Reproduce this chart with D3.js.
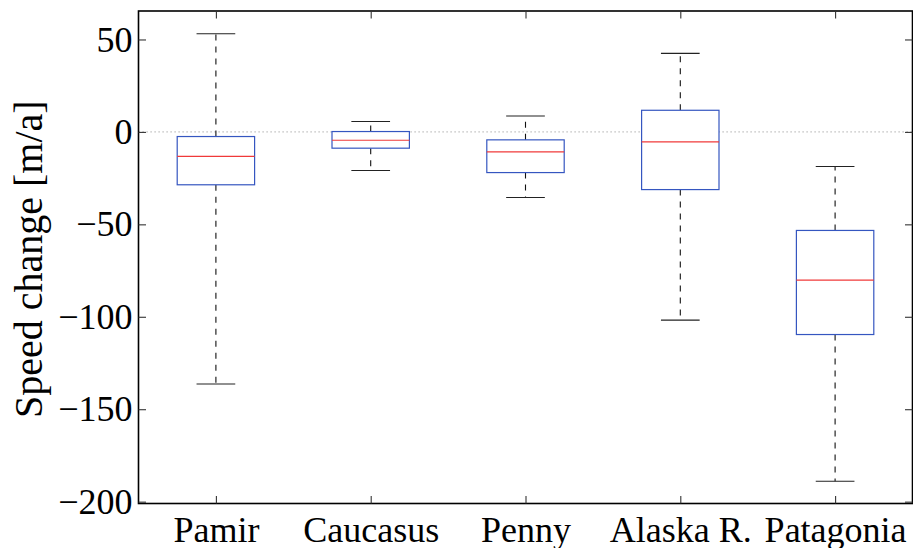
<!DOCTYPE html>
<html>
<head>
<meta charset="utf-8">
<script src="https://cdn.jsdelivr.net/npm/d3@7"></script>
<style>
  html, body { margin: 0; padding: 0; background: #fff; }
  svg { display: block; }
  text { font-family: "Liberation Serif", "Times New Roman", serif; fill: #000; }
</style>
</head>
<body>
<svg id="chart" width="913" height="548"></svg>
<script>
// Box plot statistics per region (m/a)
const categories  = ["Pamir", "Caucasus", "Penny", "Alaska R.", "Patagonia"];
const whiskerHigh = [53.1, 5.6, 8.6, 42.5, -18.7];
const upperQuart  = [-2.5, 0.2, -4.3, 11.7, -53.3];
const medians     = [-13.2, -4.5, -10.8, -5.4, -80.2];
const lowerQuart  = [-28.6, -8.8, -22.0, -31.2, -109.6];
const whiskerLow  = [-136.4, -20.9, -35.5, -101.8, -189.0];
const yTicks      = [-200, -150, -100, -50, 0, 50];
const yLabel      = "Speed change [m/a]";

const serif = '"Liberation Serif", "Times New Roman", serif';
const svg = d3.select("#chart");
const frame = { left: 138.5, right: 912.5, top: 11, bottom: 503.5 };

const x = d3.scaleLinear().domain([0.5, categories.length + 0.5]).range([frame.left, frame.right]);
const y = d3.scaleLinear().domain([-201, 65.4]).range([frame.bottom, frame.top]);

const boxHalf = x(1.25) - x(1);    // box half width = 0.25 units
const capHalf = x(1.125) - x(1);   // whisker cap half width

const rows = categories.map((c, i) => ({
  name: c, pos: i + 1,
  hi: whiskerHigh[i], q3: upperQuart[i], med: medians[i], q1: lowerQuart[i], lo: whiskerLow[i]
}));

// zero reference line
svg.append("line")
  .attr("x1", frame.left).attr("x2", frame.right)
  .attr("y1", y(0)).attr("y2", y(0))
  .attr("stroke", "#9a9a9a").attr("stroke-width", 1)
  .attr("stroke-dasharray", "1.2,2.8");

const g = svg.append("g").selectAll("g").data(rows).join("g");

// whiskers (dashed)
g.append("line")
  .attr("x1", d => x(d.pos)).attr("x2", d => x(d.pos))
  .attr("y1", d => y(d.q3)).attr("y2", d => y(d.hi))
  .attr("stroke", "#111").attr("stroke-width", 1.1)
  .attr("stroke-dasharray", "6,6");
g.append("line")
  .attr("x1", d => x(d.pos)).attr("x2", d => x(d.pos))
  .attr("y1", d => y(d.q1)).attr("y2", d => y(d.lo))
  .attr("stroke", "#111").attr("stroke-width", 1.1)
  .attr("stroke-dasharray", "6,6");

// whisker caps
g.append("line")
  .attr("x1", d => x(d.pos) - capHalf).attr("x2", d => x(d.pos) + capHalf)
  .attr("y1", d => y(d.hi)).attr("y2", d => y(d.hi))
  .attr("stroke", "#222").attr("stroke-width", 1.1);
g.append("line")
  .attr("x1", d => x(d.pos) - capHalf).attr("x2", d => x(d.pos) + capHalf)
  .attr("y1", d => y(d.lo)).attr("y2", d => y(d.lo))
  .attr("stroke", "#222").attr("stroke-width", 1.1);

// boxes
g.append("rect")
  .attr("x", d => x(d.pos) - boxHalf)
  .attr("width", 2 * boxHalf)
  .attr("y", d => y(d.q3))
  .attr("height", d => y(d.q1) - y(d.q3))
  .attr("fill", "#fff")
  .attr("stroke", "#3556c0").attr("stroke-width", 1.2);

// medians
g.append("line")
  .attr("x1", d => x(d.pos) - boxHalf).attr("x2", d => x(d.pos) + boxHalf)
  .attr("y1", d => y(d.med)).attr("y2", d => y(d.med))
  .attr("stroke", "#f03a3a").attr("stroke-width", 1.2);

// axes frame with inward ticks on all four sides
const tickLen = 7.5;
const axisG = svg.append("g");

axisG.append("rect")
  .attr("x", frame.left).attr("y", frame.top)
  .attr("width", frame.right - frame.left).attr("height", frame.bottom - frame.top)
  .attr("fill", "none").attr("stroke", "#000").attr("stroke-width", 1.6);

const axisL = d3.axisLeft(y).tickValues(yTicks).tickSizeInner(-tickLen).tickSizeOuter(0).tickPadding(6);
const axisR = d3.axisRight(y).tickValues(yTicks).tickSizeInner(-tickLen).tickSizeOuter(0).tickFormat("");
const axisB = d3.axisBottom(x).tickValues(rows.map(d => d.pos)).tickFormat((v, i) => categories[i])
  .tickSizeInner(-tickLen).tickSizeOuter(0).tickPadding(13);
const axisT = d3.axisTop(x).tickValues(rows.map(d => d.pos)).tickSizeInner(-tickLen).tickSizeOuter(0).tickFormat("");

function styleAxis(sel) {
  sel.attr("font-family", serif);
  sel.select(".domain").remove();
  sel.selectAll(".tick line").attr("stroke", "#333").attr("stroke-width", 1.1);
  sel.selectAll(".tick text")
    .attr("font-family", serif)
    .style("font-family", serif)
    .style("font-size", "36px").attr("fill", "#000");
}

axisG.append("g").attr("transform", `translate(${frame.left},0)`).call(axisL).call(styleAxis);
axisG.append("g").attr("transform", `translate(${frame.right},0)`).call(axisR).call(styleAxis);
axisG.append("g").attr("transform", `translate(0,${frame.bottom})`).call(axisB).call(styleAxis);
axisG.append("g").attr("transform", `translate(0,${frame.top})`).call(axisT).call(styleAxis);

// y axis title
svg.append("text")
  .attr("transform", `translate(42,${(frame.top + frame.bottom) / 2 + 2}) rotate(-90)`)
  .attr("text-anchor", "middle")
  .attr("font-family", serif)
  .style("font-size", "40px")
  .text(yLabel);
</script>
</body>
</html>
